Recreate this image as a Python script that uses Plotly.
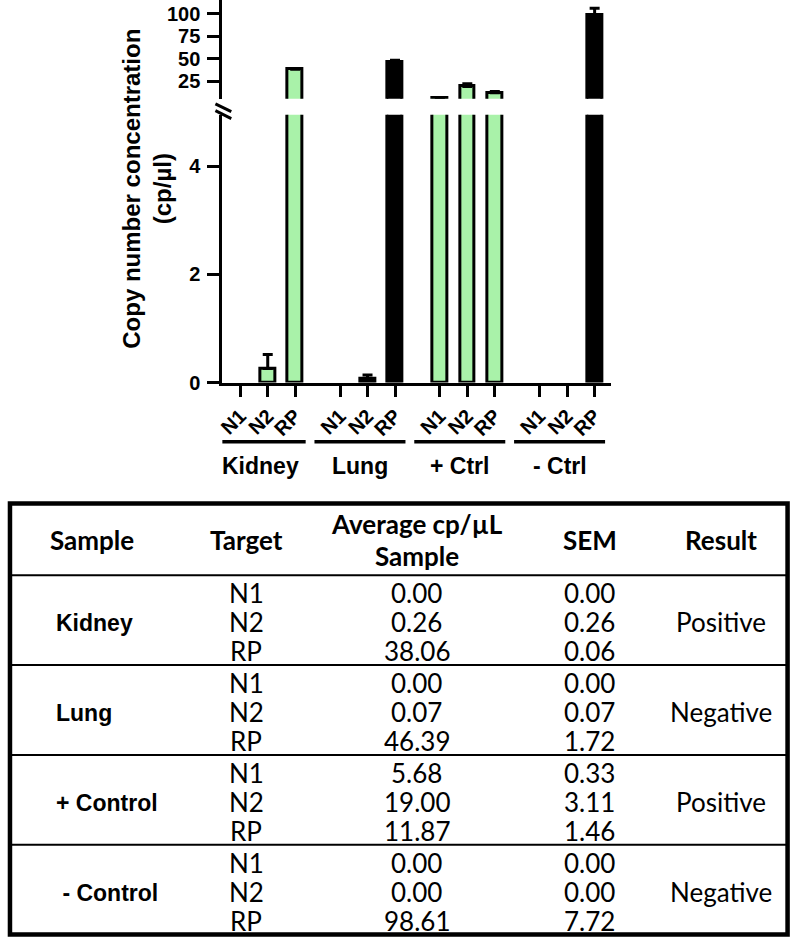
import plotly.graph_objects as go

W, H = 796, 952

# ---------------- data ----------------
groups = ["Kidney", "Lung", "+ Ctrl", "- Ctrl"]
targets = ["N1", "N2", "RP"]
table_samples = ["Kidney", "Lung", "+ Control", "\u00a0- Control"]
avg_kidney = [0.00, 0.26, 38.06]
avg_lung = [0.00, 0.07, 46.39]
avg_pos_ctrl = [5.68, 19.00, 11.87]
avg_neg_ctrl = [0.00, 0.00, 98.61]
sem_kidney = [0.00, 0.26, 0.06]
sem_lung = [0.00, 0.07, 1.72]
sem_pos_ctrl = [0.33, 3.11, 1.46]
sem_neg_ctrl = [0.00, 0.00, 7.72]
results = ["Positive", "Negative", "Positive", "Negative"]
lower_ticks = [0, 2, 4]
upper_ticks = [25, 50, 75, 100]

averages = [avg_kidney, avg_lung, avg_pos_ctrl, avg_neg_ctrl]
sems = [sem_kidney, sem_lung, sem_pos_ctrl, sem_neg_ctrl]

# ---------------- styling helpers ----------------
GREEN = "#A9F2A9"
GROUP_STEP = 3.63


def px(x):
    return x / W


def py(y):
    return 1 - y / H


xpos, yvals, colors, lwidths, ticktext = [], [], [], [], []
ex, ey, ee = [], [], []
for g in range(len(groups)):
    for t in range(len(targets)):
        v = averages[g][t]
        x = g * GROUP_STEP + t
        xpos.append(x)
        yvals.append(v)
        colors.append(GREEN if results[g] == "Positive" else "black")
        lwidths.append(3 if v > 0 else 0)
        ticktext.append(targets[t])
        if sems[g][t] > 0:
            ex.append(x)
            ey.append(v)
            ee.append(sems[g][t])

fig = go.Figure()
for xa, ya in [("x", "y"), ("x2", "y2")]:
    fig.add_trace(go.Bar(
        x=xpos, y=yvals, width=0.54,
        marker=dict(color=colors, line=dict(color="black", width=lwidths)),
        xaxis=xa, yaxis=ya, showlegend=False, hoverinfo="skip",
    ))
    fig.add_trace(go.Scatter(
        x=ex, y=ey, mode="markers", marker=dict(size=1, opacity=0),
        error_y=dict(type="data", symmetric=False, array=ee,
                     arrayminus=[0] * len(ee), color="black",
                     thickness=3, width=5),
        xaxis=xa, yaxis=ya, showlegend=False, hoverinfo="skip",
    ))

SANS = "Liberation Sans, Arial, sans-serif"
YT_FONT = dict(family=SANS, size=20, color="black", weight="bold")
XT_FONT = dict(family=SANS, size=20, color="black", weight="bold")
common_y = dict(ticks="outside", ticklen=12, tickwidth=3, tickcolor="black",
                showline=True, linecolor="black", linewidth=3,
                showgrid=False, zeroline=False, tickfont=YT_FONT,
                fixedrange=True, tickmode="array", ticklabelstandoff=3)
xrange = [-0.65, 13.5]
xdom = [px(218), px(610)]

fig.update_layout(
    width=W, height=H,
    margin=dict(l=0, r=0, t=0, b=0),
    paper_bgcolor="white", plot_bgcolor="rgba(0,0,0,0)",
    bargap=0,
    xaxis=dict(domain=xdom, range=xrange, tickmode="array", tickvals=xpos,
               ticktext=ticktext, tickangle=-45, ticks="outside", ticklen=11,
               tickwidth=3, tickcolor="black", showline=True,
               linecolor="black", linewidth=3, showgrid=False,
               zeroline=False, tickfont=XT_FONT, anchor="y", fixedrange=True),
    yaxis=dict(domain=[py(387), py(116)], range=[0, 271 / 54.7],
               tickvals=lower_ticks, anchor="x", **common_y),
    xaxis2=dict(domain=xdom, range=xrange, visible=False, anchor="y2",
                fixedrange=True),
    yaxis2=dict(domain=[py(100), 1], range=[5.15, 115.44],
                tickvals=upper_ticks, anchor="x2", **common_y),
)

shapes = []
annotations = []

# axis break marks
for y0 in (105, 112):
    shapes.append(dict(type="line", xref="paper", yref="paper",
                       x0=px(211), y0=py(y0), x1=px(227), y1=py(y0 + 8),
                       line=dict(color="black", width=3)))

# y-axis title
annotations.append(dict(text="Copy number concentration<br>(cp/µl)",
                        xref="paper", yref="paper", x=px(142), y=py(191),
                        textangle=-90, showarrow=False,
                        xanchor="center", yanchor="middle",
                        font=dict(family=SANS, size=24, color="black",
                                  weight="bold")))

# group underlines and labels
for g, name in enumerate(groups):
    x0 = g * GROUP_STEP - 0.93
    x1 = g * GROUP_STEP + 2 + 0.38
    shapes.append(dict(type="line", xref="x", yref="paper",
                       x0=x0, x1=x1, y0=py(447), y1=py(447),
                       line=dict(color="black", width=3.5)))
    annotations.append(dict(text=name, xref="x", yref="paper",
                            x=(x0 + x1) / 2, y=py(471), showarrow=False,
                            xanchor="center", yanchor="middle",
                            font=dict(family=SANS, size=23, color="black",
                                      weight="bold")))

# ---------------- table ----------------
T_LEFT, T_RIGHT, T_TOP, T_BOTTOM = 4, 787.5, 509.5, 945.5
HEAD_BOTTOM = 582
GROUP_H = (T_BOTTOM - HEAD_BOTTOM) / len(table_samples)
ROW_H = 29.5
ROW0 = 18

shapes.append(dict(type="rect", xref="paper", yref="paper",
                   x0=px(T_LEFT), x1=px(T_RIGHT), y0=py(T_TOP), y1=py(T_BOTTOM),
                   line=dict(color="black", width=4.5)))
for k in range(len(table_samples)):
    yy = HEAD_BOTTOM + k * GROUP_H
    shapes.append(dict(type="line", xref="paper", yref="paper",
                       x0=px(T_LEFT), x1=px(T_RIGHT), y0=py(yy), y1=py(yy),
                       line=dict(color="black", width=2)))

TBL_FONT = "Lato, Open Sans, sans-serif"
HEAD = dict(family=TBL_FONT, size=26, color="black", weight="bold")
BODY = dict(family=TBL_FONT, size=26, color="black")
SAMPLE_FONT = dict(family=SANS, size=23, color="black", weight="bold")

COL_X = dict(sample=87, target=242, avg=414, sem=588, result=720)


def txt(text, x, y, font, xanchor="center"):
    annotations.append(dict(text=text, xref="paper", yref="paper",
                            x=px(x), y=py(y), showarrow=False,
                            xanchor=xanchor, yanchor="middle", font=font))


txt("Sample", COL_X["sample"], 546, HEAD)
txt("Target", COL_X["target"], 546, HEAD)
txt("Average cp/µL", COL_X["avg"], 530, HEAD)
txt("Sample", COL_X["avg"], 563, HEAD)
txt("SEM", COL_X["sem"], 546, HEAD)
txt("Result", COL_X["result"], 546, HEAD)

for g, name in enumerate(table_samples):
    top = HEAD_BOTTOM + g * GROUP_H
    for t, tg in enumerate(targets):
        yy = top + ROW0 + t * ROW_H
        txt(tg, COL_X["target"], yy, BODY)
        txt(f"{averages[g][t]:.2f}", COL_X["avg"], yy, BODY)
        txt(f"{sems[g][t]:.2f}", COL_X["sem"], yy, BODY)
    mid = top + ROW0 + ROW_H
    txt(results[g], COL_X["result"], mid, BODY)
    txt(name, 48, mid + 1, SAMPLE_FONT, xanchor="left")

fig.update_layout(shapes=shapes, annotations=annotations)

PAGE_FIX = (
    "var h=document.documentElement.style, b=document.body.style;"
    "h.margin='0';h.padding='0';h.overflow='hidden';h.height='952px';"
    "b.margin='0';b.padding='0';b.overflow='hidden';b.height='952px';"
)

fig.write_html("out.html", config={"displayModeBar": False},
               post_script=PAGE_FIX)
